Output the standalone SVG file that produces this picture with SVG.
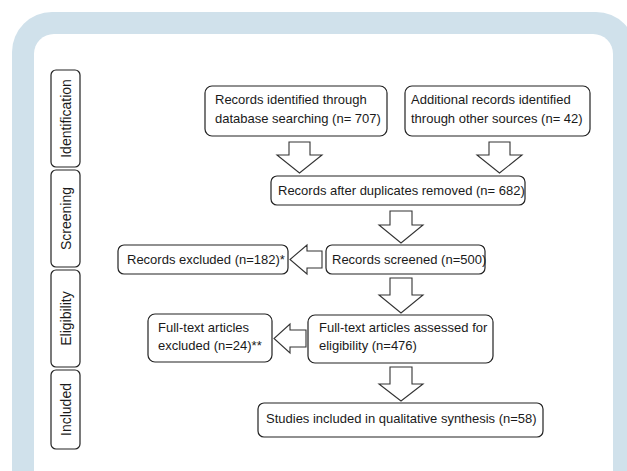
<svg xmlns="http://www.w3.org/2000/svg" width="627" height="471" viewBox="0 0 627 471">
<style>
.box{fill:#fff;stroke:#222;stroke-width:1.2}
.arr{fill:#fff;stroke:#333;stroke-width:1.1;stroke-linejoin:miter}
text{font-family:"Liberation Sans",Arial,sans-serif;font-size:13px;fill:#1a1a1a}
.stage{text-anchor:middle;font-size:14px}
</style>
<rect x="0" y="0" width="627" height="471" fill="#fff"/>
<rect x="12" y="12" width="624" height="500" rx="40" ry="40" fill="#d0e1eb"/>
<rect x="34" y="34" width="579" height="470" rx="20" ry="20" fill="#fff"/>
<g id="stage-identification"><rect class="box" x="51" y="70" width="29" height="97" rx="5"/><text class="stage" transform="translate(70.5,118.5) rotate(-90)">Identification</text></g>
<g id="stage-screening"><rect class="box" x="51" y="170" width="29" height="97" rx="5"/><text class="stage" transform="translate(70.5,218.5) rotate(-90)">Screening</text></g>
<g id="stage-eligibility"><rect class="box" x="51" y="270" width="29" height="97" rx="5"/><text class="stage" transform="translate(70.5,318.5) rotate(-90)">Eligibility</text></g>
<g id="stage-included"><rect class="box" x="51" y="370" width="29" height="79" rx="5"/><text class="stage" transform="translate(70.5,409.5) rotate(-90)">Included</text></g>
<g id="n-db"><rect class="box" x="205" y="86" width="182" height="50" rx="7"/><text x="215" y="104">Records identified through</text><text x="215" y="123">database searching (n= 707)</text></g>
<g id="n-other"><rect class="box" x="405" y="86" width="185" height="50" rx="7"/><text x="411" y="104">Additional records identified</text><text x="411" y="123">through other sources (n= 42)</text></g>
<g id="n-dup"><rect class="box" x="271" y="176" width="254" height="29" rx="6"/><text x="278" y="195">Records after duplicates removed (n= 682)</text></g>
<g id="n-screened"><rect class="box" x="326" y="245" width="159" height="29" rx="6"/><text x="332" y="264">Records screened (n=500)</text></g>
<g id="n-excl"><rect class="box" x="118" y="245" width="170" height="29" rx="6"/><text x="127" y="264">Records excluded (n=182)*</text></g>
<g id="n-fulltext"><rect class="box" x="308" y="315" width="185" height="48" rx="7"/><text x="319" y="332">Full-text articles assessed for</text><text x="319" y="350">eligibility (n=476)</text></g>
<g id="n-ftexcl"><rect class="box" x="148" y="314" width="124" height="48" rx="7"/><text x="158" y="332">Full-text articles</text><text x="158" y="350">excluded (n=24)**</text></g>
<g id="n-included"><rect class="box" x="258" y="403" width="285" height="34" rx="6"/><text x="266" y="423">Studies included in qualitative synthesis (n=58)</text></g>
<g id="connectors">
<polygon class="arr" points="289,142 310,142 310,155 322,155 299.5,173 277,155 289,155"/>
<polygon class="arr" points="489,142 510,142 510,155 522,155 499.5,173 477,155 489,155"/>
<polygon class="arr" points="390,211 412,211 412,225 423,225 401,243 379,225 390,225"/>
<polygon class="arr" points="390,278 412,278 412,295 423,295 401,313 379,295 390,295"/>
<polygon class="arr" points="390,367 412,367 412,384 423,384 401,401 379,384 390,384"/>
<polygon class="arr" points="322,251 322,268 307,268 307,274 290,259.5 307,245 307,251"/>
<polygon class="arr" points="306,330 306,347 290,347 290,353 274,338.5 290,324 290,330"/>
</g>
</svg>
